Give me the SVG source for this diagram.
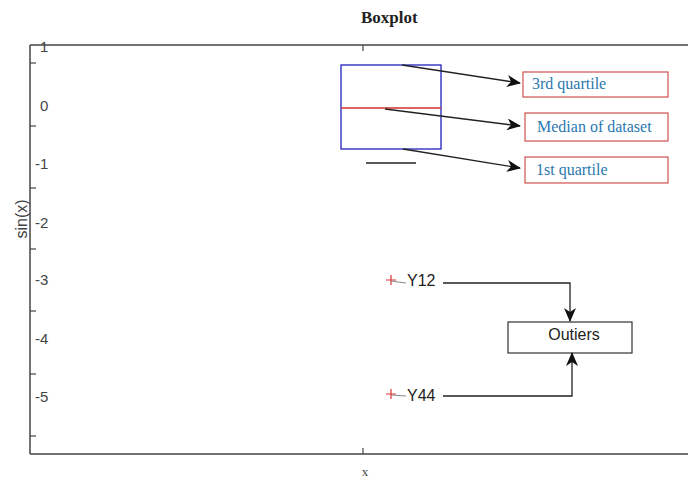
<svg xmlns="http://www.w3.org/2000/svg" width="688" height="478" viewBox="0 0 688 478">
<defs>
<style>
.axis{stroke:#444;stroke-width:1.5;fill:none}
.tick{stroke:#444;stroke-width:1.2}
.tl{font-family:"Liberation Sans",Arial,sans-serif;font-size:15px;fill:#444}
.lbl{font-family:"Liberation Serif","Times New Roman",serif;font-size:16px;fill:#2a78b0}
.lbox{fill:#fff;stroke:#d05050;stroke-width:1.2}
.conn{stroke:#222;stroke-width:1.3;fill:none}
.sans{font-family:"Liberation Sans",Arial,sans-serif;font-size:16px;fill:#222}
</style>
<marker id="ah" viewBox="0 0 14 12" refX="13" refY="6" markerWidth="14" markerHeight="12" markerUnits="userSpaceOnUse" orient="auto">
<path d="M0,0 L14,6 L0,12 L4,6 Z" fill="#111"/>
</marker>
</defs>
<rect width="688" height="478" fill="#fff"/>
<text x="361" y="23" font-family="Liberation Serif,Times New Roman,serif" font-size="17" font-weight="bold" fill="#222">Boxplot</text>
<g id="axes">
<line class="axis" x1="30" y1="45" x2="688" y2="45"/>
<line class="axis" x1="30" y1="454" x2="688" y2="454" stroke="#666" stroke-width="2"/>
<line class="axis" x1="30" y1="45" x2="30" y2="454"/>
<line class="tick" x1="30" y1="63" x2="36" y2="63"/>
<line class="tick" x1="30" y1="126" x2="36" y2="126"/>
<line class="tick" x1="30" y1="188" x2="36" y2="188"/>
<line class="tick" x1="30" y1="249" x2="36" y2="249"/>
<line class="tick" x1="30" y1="311" x2="36" y2="311"/>
<line class="tick" x1="30" y1="374" x2="36" y2="374"/>
<line class="tick" x1="30" y1="436" x2="36" y2="436"/>
<line class="tick" x1="363" y1="45" x2="363" y2="51"/>
<line class="tick" x1="363" y1="448" x2="363" y2="454"/>
<text class="tl" x="40" y="52">1</text>
<text class="tl" x="40" y="111">0</text>
<text class="tl" x="35" y="169">-1</text>
<text class="tl" x="35" y="228">-2</text>
<text class="tl" x="35" y="285">-3</text>
<text class="tl" x="35" y="344">-4</text>
<text class="tl" x="35" y="402">-5</text>
<text x="365" y="476" text-anchor="middle" font-family="Liberation Serif,Times New Roman,serif" font-size="13" fill="#444">x</text>
<text transform="translate(27,219) rotate(-90)" text-anchor="middle" font-family="Liberation Sans,Arial,sans-serif" font-size="16" fill="#444">sin(x)</text>
</g>
<g id="boxplot">
<rect x="341" y="65" width="100" height="84" fill="none" stroke="#2222bb" stroke-width="1.3"/>
<line x1="341" y1="108" x2="441" y2="108" stroke="#d03030" stroke-width="1.3"/>
<line x1="366" y1="163" x2="416" y2="163" stroke="#222" stroke-width="1.3"/>
</g>
<g id="outlier-points">
<path d="M386,280 h10 M391,275 v10" stroke="#e03030" stroke-width="1.2"/>
<line x1="391" y1="281" x2="406" y2="283" stroke="#888" stroke-width="1"/>
<text class="sans" x="407" y="286">Y12</text>
<path d="M386,394 h10 M391,389 v10" stroke="#e03030" stroke-width="1.2"/>
<line x1="391" y1="395" x2="406" y2="396" stroke="#888" stroke-width="1"/>
<text class="sans" x="407" y="401">Y44</text>
</g>
<g id="label-3rd">
<rect class="lbox" x="523" y="72" width="145" height="25"/>
<text class="lbl" x="532" y="89">3rd quartile</text>
</g>
<g id="label-median">
<rect class="lbox" x="525" y="113" width="143" height="28"/>
<text class="lbl" x="537" y="132">Median of dataset</text>
</g>
<g id="label-1st">
<rect class="lbox" x="525" y="157" width="143" height="26"/>
<text class="lbl" x="536" y="175">1st quartile</text>
</g>
<g id="outliers">
<rect x="508" y="322" width="124" height="31" fill="#fff" stroke="#333" stroke-width="1.2"/>
<text class="sans" x="574" y="340" text-anchor="middle">Outiers</text>
</g>
<g id="connectors">
<line class="conn" x1="402" y1="65" x2="520" y2="83" marker-end="url(#ah)"/>
<line class="conn" x1="385" y1="109" x2="520" y2="126" marker-end="url(#ah)"/>
<line class="conn" x1="403" y1="149" x2="520" y2="168" marker-end="url(#ah)"/>
<polyline class="conn" points="443,283 570,283 570,321" marker-end="url(#ah)"/>
<polyline class="conn" points="443,396 572,396 572,353" marker-end="url(#ah)"/>
</g>
</svg>
